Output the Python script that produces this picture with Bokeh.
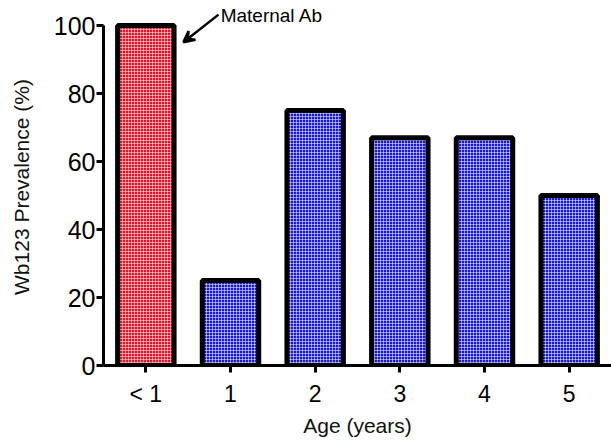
from bokeh.plotting import figure
from bokeh.models import ColumnDataSource, FactorRange, Range1d, Arrow, VeeHead, Label, FixedTicker
from bokeh.embed import file_html
from bokeh.resources import INLINE

ages = ["< 1", "1", "2", "3", "4", "5"]
prevalence = [100, 25, 75, 67, 67, 50]
bar_colors = ["#e3142a", "#1a1ad6", "#1a1ad6", "#1a1ad6", "#1a1ad6", "#1a1ad6"]
y_ticks = [0, 20, 40, 60, 80, 100]
annotation_text = "Maternal Ab"

FONT = "Liberation Sans"
BAR_W = 0.667

src = ColumnDataSource(dict(age=ages, prev=prevalence, color=bar_colors))

p = figure(x_range=FactorRange(*ages, range_padding=0), y_range=Range1d(0, 105),
           frame_width=508, frame_height=357,
           min_border_left=103, min_border_right=0, min_border_top=8, min_border_bottom=75,
           output_backend="svg", toolbar_location=None)

p.vbar(x="age", top="prev", width=BAR_W, source=src, fill_color="color",
       line_color="black", line_width=5,
       hatch_pattern="cross", hatch_color="white", hatch_scale=3, hatch_weight=1, hatch_alpha=0.5)

# annotation pointing at top-right corner of first bar
x0 = 0.5 + BAR_W / 2
y0 = prevalence[0]
p.add_layout(Arrow(end=VeeHead(size=11, line_width=2.5, line_color="black"),
                   x_start=x0 + 0.525, y_start=y0 + 3.2, x_end=x0 + 0.11, y_end=y0 - 4.9,
                   line_width=2.5, line_color="black"))
p.add_layout(Label(x=x0 + 0.55, y=y0 + 2.8, text=annotation_text, text_font=FONT,
                   text_font_size="19px", text_baseline="middle", text_align="left",
                   text_color="black"))

p.grid.visible = False
p.outline_line_color = None
p.background_fill_color = "white"
p.border_fill_color = "white"

p.yaxis.bounds = (0, 100)
p.yaxis.ticker = FixedTicker(ticks=y_ticks)
for ax in (p.xaxis[0], p.yaxis[0]):
    ax.axis_line_width = 3
    ax.axis_line_color = "black"
    ax.major_tick_line_width = 3
    ax.major_tick_line_color = "black"
    ax.major_tick_in = 0
    ax.minor_tick_line_color = None
    ax.major_label_text_font = FONT
    ax.major_label_text_color = "black"
    ax.axis_label_text_font = FONT
    ax.axis_label_text_font_style = "normal"
    ax.axis_label_text_font_size = "21px"
    ax.axis_label_text_color = "#111111"

p.yaxis.major_tick_out = 7
p.yaxis.major_label_text_font_size = "25px"
p.yaxis.major_label_standoff = 1
p.yaxis.axis_label = "Wb123 Prevalence (%)"
p.yaxis.axis_label_standoff = 18

p.xaxis.major_tick_out = 7
p.xaxis.major_label_text_font_size = "23px"
p.xaxis.major_label_standoff = 8
p.xaxis.axis_label = "Age (years)"
p.xaxis.axis_label_standoff = 4

open("out.html", "w").write(file_html(p, INLINE))
